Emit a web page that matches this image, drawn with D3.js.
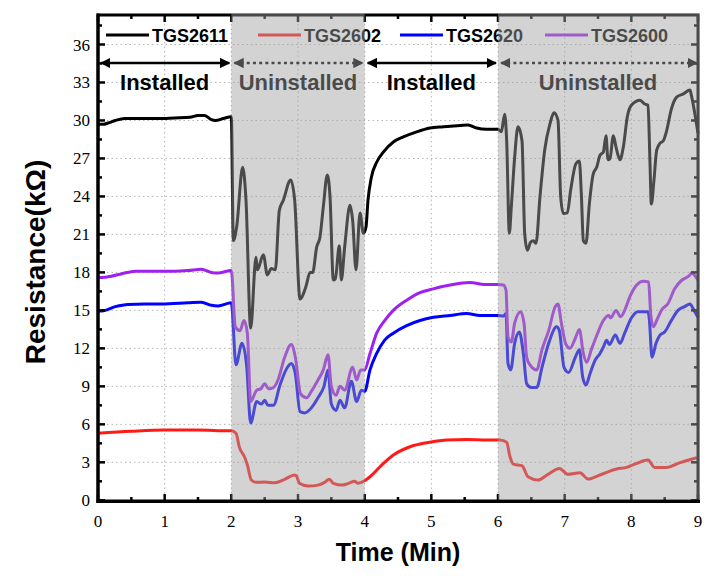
<!DOCTYPE html>
<html><head><meta charset="utf-8">
<script src="https://cdn.jsdelivr.net/npm/d3@7/dist/d3.min.js"></script>
<style>body{margin:0;background:#fff}svg{display:block}</style>
</head><body>
<svg id="chart" width="725" height="578"></svg>
<script>
// ---- data ----
const seriesNames = ["TGS2611", "TGS2602", "TGS2620", "TGS2600"];
const seriesColors = ["#000000", "#ff1a1a", "#0000ff", "#a020f0"];
const xTicks = [0,1,2,3,4,5,6,7,8,9];
const yTicks = [0,3,6,9,12,15,18,21,24,27,30,33,36];
const phases = [
  {label:"Installed", start:0, end:2, shaded:false},
  {label:"Uninstalled", start:2, end:4, shaded:true},
  {label:"Installed", start:4, end:6, shaded:false},
  {label:"Uninstalled", start:6, end:9, shaded:true}
];
const tgs2611 = [[0,29.7],[0.08,29.7],[0.15,29.8],[0.26,30.0],[0.4,30.15],[0.9,30.15],[1.15,30.2],[1.38,30.25],[1.5,30.4],[1.6,30.4],[1.7,30.07],[1.76,30.0],[1.88,30.15],[2.0,30.3],
 [2.03,20.5],[2.08,21.6],[2.17,26.3],[2.22,23.7],[2.29,13.6],[2.37,19.2],[2.39,18.2],[2.48,19.4],[2.54,17.8],[2.6,18.3],[2.66,18.2],[2.72,22.9],[2.78,23.7],[2.89,25.3],[2.95,23.7],[3.03,15.9],[3.12,16.9],[3.18,18.0],[3.22,18.0],[3.28,20.0],[3.33,20.8],[3.38,23.2],[3.44,25.7],[3.48,24.0],[3.53,17.4],[3.56,17.5],[3.62,20.1],[3.65,17.4],[3.7,20.0],[3.78,23.3],[3.82,22.1],[3.87,18.2],[3.93,22.7],[3.98,21.1],
 [4.02,21.6],[4.05,23.7],[4.1,25.5],[4.18,26.7],[4.28,27.5],[4.43,28.3],[4.58,28.7],[4.78,29.1],[4.98,29.4],[5.18,29.5],[5.43,29.6],[5.55,29.65],[5.68,29.4],[5.83,29.3],[6.0,29.3],
 [6.05,29.1],[6.1,30.5],[6.13,28.4],[6.17,21.1],[6.2,23.2],[6.25,27.1],[6.3,29.5],[6.36,28.4],[6.4,21.1],[6.44,19.75],[6.49,20.4],[6.53,20.5],[6.57,20.3],[6.63,24.0],[6.7,27.65],[6.78,29.75],[6.84,30.6],[6.9,30.0],[6.94,24.0],[6.98,22.65],[7.04,22.7],[7.09,24.5],[7.17,26.6],[7.22,26.8],[7.25,24.2],[7.28,20.5],[7.32,20.3],[7.37,23.4],[7.43,25.8],[7.48,26.3],[7.53,27.25],[7.58,27.5],[7.62,28.8],[7.65,26.9],[7.68,27.0],[7.73,28.8],[7.77,27.9],[7.83,26.9],[7.88,27.9],[7.94,30.3],[8.0,31.2],[8.13,31.6],[8.2,31.3],[8.25,31.2],[8.28,26.6],[8.3,23.4],[8.34,25.3],[8.38,27.65],[8.43,28.2],[8.48,28.4],[8.53,29.2],[8.6,30.9],[8.68,31.85],[8.78,32.1],[8.88,32.4],[8.9,32.0],[8.96,30.3],[9.0,29.0]];
const tgs2602 = [[0,5.29],[0.5,5.45],[1.0,5.55],[1.5,5.55],[1.8,5.5],[2.0,5.5],[2.07,5.3],[2.12,4.2],[2.2,3.4],[2.24,2.8],[2.3,1.6],[2.37,1.42],[2.5,1.44],[2.65,1.39],[2.8,1.66],[2.95,2.0],[2.98,1.9],[3.02,1.34],[3.15,1.13],[3.3,1.2],[3.4,1.42],[3.47,1.66],[3.53,1.34],[3.66,1.2],[3.76,1.34],[3.85,1.5],[3.9,1.34],[4.0,1.55],[4.08,1.86],[4.23,2.65],[4.43,3.58],[4.68,4.23],[4.93,4.55],[5.23,4.76],[5.53,4.81],[5.83,4.76],[6.03,4.76],[6.13,4.58],[6.18,3.44],[6.23,2.86],[6.36,2.73],[6.45,1.86],[6.6,1.6],[6.75,2.05],[6.92,2.52],[7.05,2.05],[7.23,2.18],[7.35,1.68],[7.53,2.0],[7.78,2.47],[7.93,2.6],[8.08,2.92],[8.25,3.18],[8.35,2.6],[8.53,2.6],[8.73,2.97],[8.98,3.36]];
const tgs2620 = [[0,14.96],[0.06,14.96],[0.26,15.3],[0.45,15.47],[0.7,15.5],[0.95,15.5],[1.35,15.6],[1.55,15.65],[1.7,15.4],[1.8,15.35],[2.0,15.6],
 [2.07,10.7],[2.16,12.4],[2.23,10.6],[2.29,6.1],[2.38,7.8],[2.45,7.6],[2.5,7.9],[2.55,7.5],[2.63,7.5],[2.73,9.1],[2.82,10.3],[2.9,10.8],[2.96,10.0],[3.03,7.0],[3.1,6.9],[3.2,7.3],[3.3,8.1],[3.39,9.0],[3.45,10.3],[3.5,7.6],[3.57,7.1],[3.63,7.9],[3.7,7.3],[3.8,9.4],[3.88,7.8],[3.95,8.7],[4.0,8.6],
 [4.08,10.3],[4.18,11.6],[4.3,12.65],[4.43,13.2],[4.63,13.8],[4.83,14.2],[5.03,14.45],[5.28,14.6],[5.53,14.75],[5.73,14.6],[6.0,14.6],
 [6.08,14.55],[6.12,14.75],[6.15,10.8],[6.19,10.3],[6.25,12.4],[6.32,13.3],[6.38,11.6],[6.43,9.2],[6.5,8.9],[6.58,8.9],[6.66,10.5],[6.76,12.4],[6.88,13.7],[6.92,13.4],[6.99,10.5],[7.06,10.1],[7.16,11.3],[7.22,11.9],[7.27,9.75],[7.32,9.1],[7.38,10.0],[7.46,11.1],[7.53,11.6],[7.58,12.1],[7.63,12.65],[7.67,12.3],[7.76,13.05],[7.83,12.4],[7.9,13.2],[8.0,14.4],[8.1,14.9],[8.25,14.9],[8.27,14.3],[8.31,11.3],[8.37,12.4],[8.43,13.05],[8.5,13.3],[8.6,14.2],[8.7,15.0],[8.8,15.3],[8.88,15.5],[8.93,15.1],[9.0,14.45]];
const tgs2600 = [[0,17.6],[0.06,17.6],[0.2,17.7],[0.36,17.9],[0.56,18.1],[1.15,18.1],[1.35,18.15],[1.55,18.25],[1.7,18.0],[1.8,17.95],[2.0,18.15],
 [2.06,13.7],[2.13,13.4],[2.19,14.2],[2.24,13.2],[2.29,7.8],[2.38,8.7],[2.44,8.8],[2.5,9.2],[2.56,8.8],[2.63,8.9],[2.7,9.5],[2.8,11.3],[2.9,12.3],[2.96,11.3],[3.04,8.4],[3.13,8.1],[3.2,8.6],[3.3,9.5],[3.38,10.3],[3.45,11.5],[3.5,9.0],[3.57,8.3],[3.63,9.0],[3.7,8.7],[3.82,10.5],[3.88,9.5],[3.94,10.3],[4.0,10.3],
 [4.08,11.6],[4.18,13.2],[4.3,14.2],[4.43,15.0],[4.63,15.8],[4.83,16.4],[5.03,16.7],[5.28,17.0],[5.58,17.2],[5.8,17.05],[6.0,17.05],
 [6.08,17.0],[6.12,16.6],[6.15,12.9],[6.2,12.5],[6.25,14.0],[6.34,14.9],[6.39,14.0],[6.43,11.3],[6.48,10.7],[6.58,10.3],[6.66,11.9],[6.76,13.4],[6.86,15.3],[6.9,15.5],[6.95,14.0],[7.02,12.3],[7.08,12.0],[7.16,12.8],[7.22,13.5],[7.28,11.6],[7.33,10.9],[7.4,11.9],[7.48,13.0],[7.58,14.2],[7.66,14.6],[7.69,14.4],[7.77,15.0],[7.84,14.5],[7.9,15.0],[7.98,16.1],[8.08,17.0],[8.18,17.3],[8.26,17.25],[8.29,14.75],[8.33,13.7],[8.38,14.2],[8.45,15.0],[8.55,15.55],[8.65,16.7],[8.76,17.4],[8.86,17.7],[8.91,17.95],[8.96,17.7],[9.0,17.4]];
const seriesData = [tgs2611, tgs2602, tgs2620, tgs2600];

// ---- layout ----
const svg = d3.select("#chart");
const L = 98, R = 698, T = 15, B = 501;
const x = d3.scaleLinear().domain([0, 9]).range([L, R]);
const y = d3.scaleLinear().domain([0, 38.33]).range([500.3, T]);
const serif = "'Liberation Serif','DejaVu Serif',serif";
const sans = "'Liberation Sans',Arial,sans-serif";

svg.append("rect").attr("width",725).attr("height",578).attr("fill","#fff");

// grid
const grid = svg.append("g").attr("stroke","#b4b4b4").attr("stroke-width",1).attr("stroke-dasharray","1.5,3");
grid.selectAll(".gx").data(xTicks.slice(1,-1)).join("line")
  .attr("x1",d=>x(d)).attr("x2",d=>x(d)).attr("y1",T).attr("y2",B);
grid.selectAll(".gy").data(yTicks.slice(1)).join("line")
  .attr("x1",L).attr("x2",R).attr("y1",d=>y(d)).attr("y2",d=>y(d));

// lines
const line = d3.line().x(d=>x(d[0])).y(d=>y(d[1])).curve(d3.curveMonotoneX);
const plot = svg.append("g");
[1,2,3,0].forEach(i=>{
  plot.append("path").datum(seriesData[i]).attr("d",line)
    .attr("fill","none").attr("stroke",seriesColors[i]).attr("stroke-width",3)
    .attr("stroke-linejoin","round");
});

// legend
const legendX = [106, 258, 400, 545];
const leg = svg.append("g");
seriesNames.forEach((n,i)=>{
  leg.append("line").attr("x1",legendX[i]).attr("x2",legendX[i]+43).attr("y1",35).attr("y2",35)
    .attr("stroke",seriesColors[i]).attr("stroke-width",3);
  leg.append("text").attr("x",legendX[i]+46).attr("y",41.5).text(n)
    .attr("font-family",sans).attr("font-weight","bold").attr("font-size",18).attr("fill","#000");
});

// phase arrows & labels
const defs = svg.append("defs");
defs.append("marker").attr("id","ah").attr("viewBox","0 0 10 10").attr("refX",9).attr("refY",5)
  .attr("markerWidth",4).attr("markerHeight",4).attr("orient","auto-start-reverse").attr("markerUnits","strokeWidth")
  .append("path").attr("d","M0,0 L10,5 L0,10 z").attr("fill","#000");
const ann = svg.append("g");
phases.forEach((p,i)=>{
  const x1 = x(p.start) + 3, x2 = x(p.end) - (i===phases.length-1 ? 1 : 2);
  ann.append("line").attr("x1",x1).attr("x2",x2).attr("y1",63).attr("y2",63)
    .attr("stroke","#000").attr("stroke-width",2.6)
    .attr("stroke-dasharray", p.shaded ? "3,3.2" : null)
    .attr("marker-start","url(#ah)").attr("marker-end","url(#ah)");
  ann.append("text").attr("x",(x(p.start)+x(p.end))/2).attr("y",90).attr("text-anchor","middle")
    .text(p.label).attr("font-family",sans).attr("font-weight","bold").attr("font-size",22).attr("fill","#000");
});

// axes frame & ticks
const ax = svg.append("g").attr("stroke","#000");
ax.append("rect").attr("x",L).attr("y",T).attr("width",R-L).attr("height",B-T)
  .attr("fill","none").attr("stroke-width",3);
const minorX = d3.range(0, 9.01, 0.5);
minorX.forEach(t=>{
  const major = Math.abs(t-Math.round(t))<1e-6;
  const len = major ? 7 : 4;
  ax.append("line").attr("x1",x(t)).attr("x2",x(t)).attr("y1",B).attr("y2",B-len).attr("stroke-width",2.5);
  ax.append("line").attr("x1",x(t)).attr("x2",x(t)).attr("y1",T).attr("y2",T+len).attr("stroke-width",2.5);
});
const minorY = d3.range(0, 37.6, 1.5);
minorY.forEach(v=>{
  const major = Math.abs(v/3-Math.round(v/3))<1e-6;
  const len = major ? 7 : 4;
  ax.append("line").attr("x1",L).attr("x2",L+len).attr("y1",y(v)).attr("y2",y(v)).attr("stroke-width",2.5);
  ax.append("line").attr("x1",R).attr("x2",R-len).attr("y1",y(v)).attr("y2",y(v)).attr("stroke-width",2.5);
});

// shaded overlays (semi-transparent, on top)
svg.append("g").selectAll("rect").data(phases.filter(p=>p.shaded)).join("rect")
  .attr("x",d=>x(d.start)).attr("width",d=>x(d.end)-x(d.start)+(d.end===9?2:0))
  .attr("y",T-2).attr("height",B-T+0.5)
  .attr("fill","rgb(160,160,160)").attr("fill-opacity",0.463);

// bottom & left axis lines on top
svg.append("line").attr("x1",L-1.5).attr("x2",R+2).attr("y1",B+0.5).attr("y2",B+0.5).attr("stroke","#000").attr("stroke-width",3);
svg.append("line").attr("x1",L).attr("x2",L).attr("y1",T-1.5).attr("y2",B+2).attr("stroke","#000").attr("stroke-width",3);

// tick labels
svg.append("g").selectAll("text").data(xTicks).join("text")
  .attr("x",d=>x(d)).attr("y",527).attr("text-anchor","middle").text(d=>d)
  .attr("font-family",serif).attr("font-size",17).attr("fill","#000");
svg.append("g").selectAll("text").data(yTicks).join("text")
  .attr("x",90).attr("y",d=>y(d)+6).attr("text-anchor","end").text(d=>d)
  .attr("font-family",serif).attr("font-size",17).attr("fill","#000");

// axis titles
svg.append("text").attr("x",398).attr("y",561).attr("text-anchor","middle").text("Time (Min)")
  .attr("font-family",sans).attr("font-weight","bold").attr("font-size",25).attr("fill","#000");
svg.append("text").attr("transform","translate(45,262) rotate(-90)").attr("text-anchor","middle").text("Resistance(kΩ)")
  .attr("font-family",sans).attr("font-weight","bold").attr("font-size",28).attr("fill","#000");
</script>
</body></html>
